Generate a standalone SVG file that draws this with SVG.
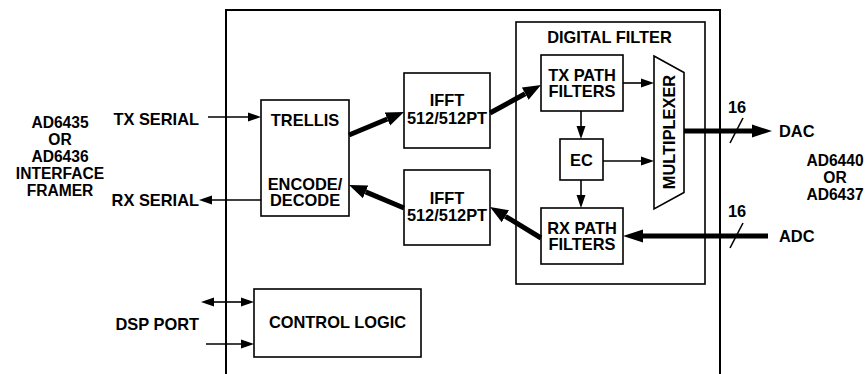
<svg xmlns="http://www.w3.org/2000/svg" width="865" height="374" viewBox="0 0 865 374">
<style>
text{font-family:"Liberation Sans",Arial,sans-serif;font-weight:bold;font-size:16.4px;fill:#000}
.c{text-anchor:middle}
.e{text-anchor:end}
.stack{font-size:15.6px}
.box{fill:#fff;stroke:#000;stroke-width:1.6}
.thin{stroke:#000;stroke-width:1.6;fill:none}
.thick{stroke:#000;stroke-width:5;fill:none}
</style>
<defs>
<marker id="ah" markerUnits="userSpaceOnUse" markerWidth="14" markerHeight="10" viewBox="0 -5 14 10" refX="0" refY="0" orient="auto-start-reverse"><path d="M0,-4.5 L13,0 L0,4.5 z" fill="#000"/></marker>
<marker id="ahT" markerUnits="userSpaceOnUse" markerWidth="20" markerHeight="16" viewBox="0 -8 20 16" refX="0" refY="0" orient="auto"><path d="M0,-7 L18,0 L0,7 z" fill="#000"/></marker>
<marker id="ahD" markerUnits="userSpaceOnUse" markerWidth="22" markerHeight="16" viewBox="0 -8 22 16" refX="0" refY="0" orient="auto"><path d="M0,-6.5 L20,0 L0,6.5 z" fill="#000"/></marker>
</defs>
<g id="outer"><path d="M226,374 V10 H720 V374" fill="none" stroke="#000" stroke-width="2"/></g>
<g id="digital-filter"><rect class="box" x="516" y="22" width="189" height="262" fill="none"/><text class="c" x="609.5" y="42.5">DIGITAL FILTER</text></g>
<g id="framer-label">
<text class="c stack" x="60" y="127.5">AD6435</text>
<text class="c stack" x="60" y="144.5">OR</text>
<text class="c stack" x="60" y="161.5">AD6436</text>
<text class="c stack" x="60" y="178.5">INTERFACE</text>
<text class="c stack" x="60" y="195.5">FRAMER</text>
</g>
<g id="port-labels">
<text class="e" x="199" y="125">TX SERIAL</text>
<text class="e" x="199" y="206">RX SERIAL</text>
<text class="e" x="199" y="329.5">DSP PORT</text>
<text x="779" y="137">DAC</text>
<text x="779" y="242">ADC</text>
<text class="c" x="737" y="112.5">16</text>
<text class="c" x="737" y="216.5">16</text>
</g>
<g id="converter-label">
<text class="c stack" x="835" y="166">AD6440</text>
<text class="c stack" x="835" y="183">OR</text>
<text class="c stack" x="835" y="200">AD6437</text>
</g>
<g id="trellis"><rect class="box" x="261" y="100" width="88" height="116"/><text class="c" x="305" y="126">TRELLIS</text><text class="c" x="305" y="189.5">ENCODE/<tspan x="305" dy="16.5">DECODE</tspan></text></g>
<g id="ifft-tx"><rect class="box" x="404" y="73" width="86" height="75"/><text class="c" x="447" y="106">IFFT<tspan x="447" dy="17.5">512/512PT</tspan></text></g>
<g id="ifft-rx"><rect class="box" x="404" y="170" width="86" height="75"/><text class="c" x="447" y="204">IFFT<tspan x="447" dy="17">512/512PT</tspan></text></g>
<g id="tx-path"><rect class="box" x="541" y="55" width="82" height="56"/><text class="c" x="582" y="80.5">TX PATH<tspan x="582" dy="16.6">FILTERS</tspan></text></g>
<g id="ec"><rect class="box" x="560" y="139" width="43" height="41"/><text class="c" x="581.5" y="165.5">EC</text></g>
<g id="rx-path"><rect class="box" x="541" y="208" width="82" height="56"/><text class="c" x="582" y="233.5">RX PATH<tspan x="582" dy="16.6">FILTERS</tspan></text></g>
<g id="mux"><path class="box" d="M654,56 L684,72.5 L684,192.5 L654,209 Z"/><text class="c" x="669" y="138" transform="rotate(-90 669 132)">MULTIPLEXER</text></g>
<g id="control"><rect class="box" x="254" y="289" width="167" height="68"/><text class="c" x="337.5" y="328">CONTROL LOGIC</text></g>
<g id="connectors">
<line class="thin" x1="208" y1="117" x2="248" y2="117" marker-end="url(#ah)"/>
<line class="thin" x1="261" y1="200" x2="212" y2="200" marker-end="url(#ah)"/>
<line class="thin" x1="214" y1="302" x2="241" y2="302" marker-start="url(#ah)" marker-end="url(#ah)"/>
<line class="thin" x1="206" y1="344" x2="241" y2="344" marker-end="url(#ah)"/>
<line class="thin" x1="623" y1="83" x2="641" y2="83" marker-end="url(#ah)"/>
<line class="thin" x1="603" y1="161" x2="641" y2="161" marker-end="url(#ah)"/>
<line class="thin" x1="581" y1="111" x2="581" y2="126" marker-end="url(#ah)"/>
<line class="thin" x1="581" y1="180" x2="581" y2="195" marker-end="url(#ah)"/>
<line class="thick" x1="349" y1="135" x2="387.4" y2="119" marker-end="url(#ahT)"/>
<line class="thick" x1="490" y1="113" x2="525.2" y2="93.7" marker-end="url(#ahT)"/>
<line class="thick" x1="541" y1="238" x2="505.4" y2="216.3" marker-end="url(#ahT)"/>
<line class="thick" x1="404" y1="208" x2="365.6" y2="191.9" marker-end="url(#ahT)"/>
<line class="thick" x1="684" y1="131" x2="752" y2="131" marker-end="url(#ahD)"/>
<line class="thick" x1="768" y1="236" x2="643" y2="236" marker-end="url(#ahD)"/>
<line class="thin" x1="730" y1="143" x2="743" y2="118"/>
<line class="thin" x1="730" y1="248" x2="743" y2="223"/>
</g>
</svg>
